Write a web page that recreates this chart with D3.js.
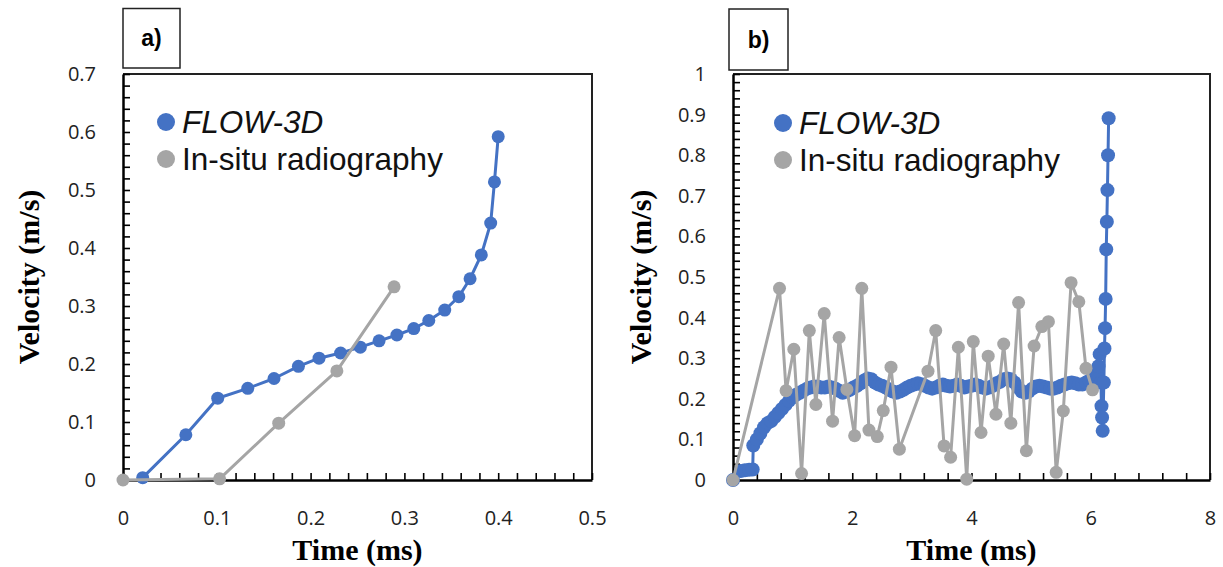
<!DOCTYPE html>
<html>
<head>
<meta charset="utf-8">
<script src="https://cdn.jsdelivr.net/npm/d3@7"></script>
<style>
  body { margin: 0; background: #fff; }
  svg { display: block; }
</style>
</head>
<body>
<div id="chart"></div>
<script>
/* global d3 */

// ---- panel a) data: time (ms) / velocity (m/s)
var flowA_t = [0.021, 0.067, 0.101, 0.133, 0.161, 0.187, 0.209, 0.232, 0.253, 0.273, 0.292, 0.310, 0.326, 0.343, 0.358, 0.370, 0.382, 0.392, 0.396, 0.400];
var flowA_v = [0.004, 0.078, 0.141, 0.158, 0.175, 0.196, 0.210, 0.219, 0.229, 0.240, 0.250, 0.261, 0.275, 0.293, 0.316, 0.347, 0.388, 0.443, 0.514, 0.592];
var xrayA_t = [0, 0.103, 0.166, 0.228, 0.289];
var xrayA_v = [0, 0.002, 0.098, 0.188, 0.333];

// ---- panel b) data
var flowB_t = [0, 0.13, 0.20, 0.27, 0.33, 0.34,
  0.40, 0.46, 0.52, 0.58, 0.64, 0.70, 0.76, 0.82, 0.88, 0.94,
  1.00, 1.06, 1.12, 1.18, 1.24, 1.30, 1.36, 1.42, 1.48, 1.54,
  1.60, 1.66, 1.72, 1.78, 1.84, 1.90, 1.96, 2.02, 2.08, 2.14,
  2.20, 2.26, 2.32, 2.38, 2.44, 2.50, 2.56, 2.62, 2.68, 2.74,
  2.80, 2.86, 2.92, 2.98, 3.04, 3.10, 3.16, 3.22, 3.28, 3.34,
  3.40, 3.46, 3.52, 3.58, 3.64, 3.70, 3.76, 3.82, 3.88, 3.94,
  4.00, 4.06, 4.12, 4.18, 4.24, 4.30, 4.36, 4.42, 4.48, 4.54,
  4.60, 4.66, 4.72, 4.78, 4.84, 4.90, 4.96, 5.02, 5.08, 5.14,
  5.20, 5.26, 5.32, 5.38, 5.44, 5.50, 5.56, 5.62, 5.68, 5.74,
  5.80, 5.86, 5.92, 5.98, 6.04, 6.10, 6.13, 6.15, 6.17, 6.18,
  6.19, 6.20, 6.22, 6.23, 6.24, 6.25, 6.26, 6.27, 6.28, 6.29, 6.30];
var flowB_v = [0, 0.022, 0.024, 0.025, 0.026, 0.085,
  0.100, 0.115, 0.130, 0.140, 0.145, 0.155, 0.165, 0.175, 0.185, 0.195,
  0.203, 0.210, 0.215, 0.220, 0.225, 0.228, 0.230, 0.230, 0.228, 0.228,
  0.230, 0.228, 0.225, 0.220, 0.215, 0.218, 0.222, 0.228, 0.232, 0.238,
  0.245, 0.250, 0.248, 0.240, 0.235, 0.232, 0.228, 0.222, 0.218, 0.215,
  0.218, 0.222, 0.228, 0.232, 0.235, 0.238, 0.236, 0.232, 0.228, 0.225,
  0.228, 0.232, 0.235, 0.232, 0.230, 0.232, 0.235, 0.232, 0.228, 0.230,
  0.232, 0.235, 0.232, 0.228, 0.225, 0.228, 0.232, 0.238, 0.242, 0.248,
  0.250, 0.248, 0.240, 0.228, 0.218, 0.215, 0.218, 0.225, 0.230, 0.232,
  0.230, 0.228, 0.225, 0.225, 0.228, 0.232, 0.235, 0.238, 0.240, 0.238,
  0.235, 0.235, 0.240, 0.245, 0.250, 0.260, 0.280, 0.310, 0.240, 0.182,
  0.154, 0.121, 0.240, 0.324, 0.374, 0.446, 0.568, 0.636, 0.714, 0.800, 0.891];
var xrayB_t = [0, 0.78, 0.89, 1.02, 1.15, 1.28, 1.39, 1.53, 1.67, 1.78, 1.91, 2.04, 2.16, 2.28, 2.42, 2.52, 2.65, 2.79,
  3.27, 3.40, 3.54, 3.65, 3.78, 3.92, 4.03, 4.16, 4.28, 4.41, 4.54, 4.66, 4.79, 4.92, 5.05, 5.18, 5.29, 5.42, 5.54, 5.67, 5.80, 5.92, 6.03];
var xrayB_v = [0, 0.472, 0.220, 0.322, 0.016, 0.368, 0.186, 0.410, 0.145, 0.351, 0.223, 0.109, 0.472, 0.123, 0.107, 0.171, 0.278, 0.076,
  0.268, 0.368, 0.084, 0.056, 0.327, 0.002, 0.341, 0.117, 0.305, 0.162, 0.335, 0.140, 0.437, 0.072, 0.330, 0.378, 0.390, 0.019, 0.170, 0.486, 0.439, 0.275, 0.222];

var seriesNames = ["FLOW-3D", "In-situ radiography"];
var blue = "#4472C4", grey = "#A5A5A5";

var svg = d3.select("#chart").append("svg")
    .attr("width", 1223)
    .attr("height", 567);

function drawPanel(p) {
  var x = d3.scaleLinear().domain([0, p.xMax]).range([p.left, p.right]);
  var y = d3.scaleLinear().domain([0, p.yMax]).range([p.bottom, p.top]);
  var g = svg.append("g");

  // frame (top/right)
  g.append("path")
    .attr("d", "M" + p.left + "," + p.top + "H" + p.right + "V" + p.bottom)
    .attr("fill", "none").attr("stroke", "#222").attr("stroke-width", 2);

  var xt = d3.range(0, Math.round(p.xMax / p.xMinor) + 1).map(i => +(i * p.xMinor).toFixed(4));
  var yt = d3.range(0, Math.round(p.yMax / p.yMinor) + 1).map(i => +(i * p.yMinor).toFixed(4));
  var isMajor = (v, m) => Math.abs(v / m - Math.round(v / m)) < 1e-6;

  var xa = g.append("g")
    .attr("transform", "translate(0," + p.bottom + ")")
    .call(d3.axisBottom(x).tickValues(xt).tickSizeInner(-7).tickSizeOuter(0).tickPadding(31)
      .tickFormat(v => isMajor(v, p.xMajor) ? d3.format("~g")(v) : ""));
  var ya = g.append("g")
    .attr("transform", "translate(" + p.left + ",0)")
    .call(d3.axisLeft(y).tickValues(yt).tickSizeInner(-7).tickSizeOuter(0).tickPadding(27)
      .tickFormat(v => isMajor(v, p.yMajor) ? d3.format("~g")(v) : ""));
  [xa, ya].forEach(a => {
    a.select(".domain").attr("stroke", "#000").attr("stroke-width", 2.5);
    a.selectAll(".tick line").attr("stroke", "#000").attr("stroke-width", 1.6);
    a.selectAll(".tick text").attr("fill", "#222")
      .style("font-family", "'Open Sans', sans-serif").style("font-size", "20px");
  });

  // axis titles
  g.append("text")
    .attr("x", (p.left + p.right) / 2).attr("y", 559.5)
    .attr("text-anchor", "middle")
    .style("font-family", "'Liberation Serif', 'Times New Roman', serif")
    .style("font-weight", "bold").style("font-size", "30px")
    .text("Time (ms)");
  g.append("text")
    .attr("transform", "translate(" + p.yTitleX + "," + (p.top + p.bottom) / 2 + ") rotate(-90)")
    .attr("text-anchor", "middle")
    .attr("dy", "0.35em")
    .style("font-family", "'Liberation Serif', 'Times New Roman', serif")
    .style("font-weight", "bold").style("font-size", "30px")
    .text("Velocity (m/s)");

  // series
  var line = d3.line().x(d => x(d[0])).y(d => y(d[1]));
  p.series.forEach(s => {
    var pts = s.t.map((t, i) => [t, s.v[i]]);
    g.append("path").datum(pts)
      .attr("d", line)
      .attr("fill", "none").attr("stroke", s.color)
      .attr("stroke-width", s.lw).attr("stroke-linejoin", "round");
    g.selectAll(null).data(pts).enter().append("circle")
      .attr("cx", d => x(d[0])).attr("cy", d => y(d[1]))
      .attr("r", s.r).attr("fill", s.color);
  });

  // legend
  var lg = g.append("g");
  [blue, grey].forEach((c, i) => {
    lg.append("circle").attr("cx", p.legX).attr("cy", p.legY[i]).attr("r", 9).attr("fill", c);
    lg.append("text")
      .attr("x", p.legX + 16).attr("y", p.legY[i]).attr("dy", "0.36em")
      .style("font-family", "'Liberation Sans', Arial, sans-serif")
      .style("font-size", "31.5px")
      .style("font-style", i === 0 ? "italic" : "normal")
      .attr("fill", "#111")
      .text(seriesNames[i]);
  });

  // panel label box
  g.append("rect")
    .attr("x", p.box[0]).attr("y", p.box[1]).attr("width", p.box[2]).attr("height", p.box[3])
    .attr("fill", "#fff").attr("stroke", "#222").attr("stroke-width", 1.5);
  g.append("text")
    .attr("x", p.box[0] + p.box[2] / 2).attr("y", p.box[1] + p.box[3] / 2).attr("dy", "0.35em")
    .attr("text-anchor", "middle")
    .style("font-family", "'Liberation Sans', Arial, sans-serif")
    .style("font-weight", "bold").style("font-size", "23px")
    .text(p.label);
}

drawPanel({
  left: 123, right: 592, top: 74, bottom: 480,
  xMax: 0.5, xMinor: 0.02, xMajor: 0.1,
  yMax: 0.7, yMinor: 0.02, yMajor: 0.1,
  yTitleX: 28, legX: 166, legY: [122, 159],
  box: [123, 8.5, 57, 59.5], label: "a)",
  series: [
    {t: flowA_t, v: flowA_v, color: blue, r: 6.5, lw: 3},
    {t: xrayA_t, v: xrayA_v, color: grey, r: 6.5, lw: 3}
  ]
});

drawPanel({
  left: 733, right: 1210, top: 74, bottom: 480,
  xMax: 8, xMinor: 0.4, xMajor: 2,
  yMax: 1, yMinor: 0.02, yMajor: 0.1,
  yTitleX: 640, legX: 783, legY: [123, 160],
  box: [729, 9, 59, 61], label: "b)",
  series: [
    {t: flowB_t, v: flowB_v, color: blue, r: 7, lw: 3},
    {t: xrayB_t, v: xrayB_v, color: grey, r: 6.5, lw: 3}
  ]
});
</script>
</body>
</html>
